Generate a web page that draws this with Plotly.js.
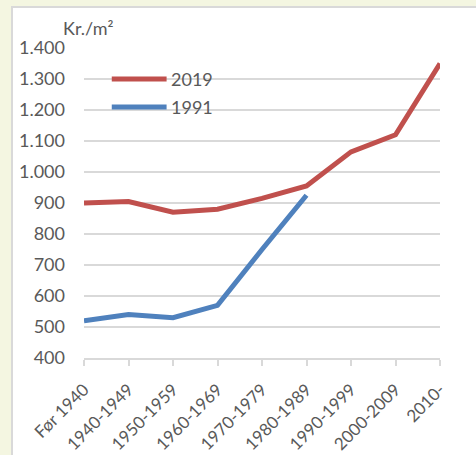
<!DOCTYPE html>
<html>
<head>
<meta charset="utf-8">
<script src="https://cdn.plot.ly/plotly-3.0.1.min.js"></script>
<style>
  html, body { margin: 0; padding: 0; width: 476px; height: 455px; overflow: hidden; background: #f4f6e1; }
  #wrap { position: absolute; left: 11px; top: 6px; width: 465px; height: 449px; background: #ffffff;
          border-left: 2px solid #d9d9d9; border-top: 2px solid #d9d9d9; }
  #chart { width: 463px; height: 447px; }
</style>
</head>
<body>
<div id="wrap"><div id="chart"></div></div>
<script>
const categories = ["Før 1940", "1940-1949", "1950-1959", "1960-1969", "1970-1979", "1980-1989", "1990-1999", "2000-2009", "2010-"];
const series2019 = [900, 905, 870, 880, 915, 955, 1065, 1120, 1350];
const series1991 = [520, 540, 530, 570, 750, 925];
const seriesNames = ["2019", "1991"];
const seriesColors = ["#c0504d", "#4f81bd"];
const yTickVals = [400, 500, 600, 700, 800, 900, 1000, 1100, 1200, 1300, 1400];
const unitLabel = "Kr./m²";

const FONT = "Lato, 'Liberation Sans', sans-serif";
const GREY = "#595959";

const traces = [
  { x: categories, y: series2019, name: seriesNames[0], type: "scatter", mode: "lines",
    line: { color: seriesColors[0], width: 5 }, showlegend: false, hoverinfo: "skip" },
  { x: categories.slice(0, series1991.length), y: series1991, name: seriesNames[1], type: "scatter", mode: "lines",
    line: { color: seriesColors[1], width: 5 }, showlegend: false, hoverinfo: "skip" }
];

const legendY = [0.90, 0.81];
const shapes = [];
const annotations = [];
seriesNames.forEach((n, i) => {
  shapes.push({ type: "line", xref: "paper", yref: "paper", x0: 0.078, x1: 0.232, y0: legendY[i], y1: legendY[i],
                line: { color: seriesColors[i], width: 5 } });
  annotations.push({ xref: "paper", yref: "paper", x: 0.238, y: legendY[i], xanchor: "left", yanchor: "middle",
                     text: n, showarrow: false, font: { family: FONT, size: 18, color: GREY } });
});
annotations.push({ xref: "paper", yref: "paper", x: 0.01, y: 1.063, xanchor: "center", yanchor: "middle",
                   text: unitLabel, showarrow: false, font: { family: FONT, size: 18, color: GREY } });

const layout = {
  width: 463, height: 447,
  margin: { l: 71, r: 36, t: 40, b: 97, pad: 0 },
  paper_bgcolor: "#ffffff", plot_bgcolor: "#ffffff",
  separators: ",.",
  font: { family: FONT, color: GREY },
  xaxis: {
    type: "category", range: [0, categories.length - 1],
    showgrid: false, zeroline: false,
    showline: true, linecolor: "#d9d9d9", linewidth: 2,
    ticks: "outside", ticklen: 6, tickcolor: "#d9d9d9", tickwidth: 2,
    ticklabelstandoff: 7,
    tickangle: -45, tickfont: { family: FONT, size: 17, color: GREY },
    fixedrange: true
  },
  yaxis: {
    range: [400, 1400], tickvals: yTickVals, tickformat: ",",
    showgrid: true, gridcolor: "#d9d9d9", gridwidth: 2,
    zeroline: false, showline: false, ticks: "",
    ticklabelstandoff: 18,
    tickfont: { family: FONT, size: 18, color: GREY },
    fixedrange: true
  },
  shapes: shapes,
  annotations: annotations,
  showlegend: false
};

Plotly.newPlot("chart", traces, layout, { staticPlot: true, displayModeBar: false });
</script>
</body>
</html>
